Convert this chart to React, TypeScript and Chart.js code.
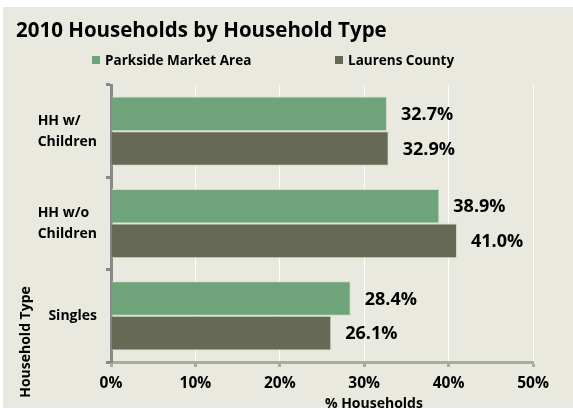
import React, { useEffect, useRef } from "react";
import { Chart, registerables } from "chart.js";

Chart.register(...registerables);

const chartTitle = "2010 Households by Household Type";
const categories: string[][] = [["HH w/", "Children"], ["HH w/o", "Children"], ["Singles"]];
const seriesNames = ["Parkside Market Area", "Laurens County"];
const parksideValues = [32.7, 38.9, 28.4];
const laurensValues = [32.9, 41.0, 26.1];
const seriesColors = ["#6FA37A", "#666A55"];
const xTitle = "% Households";
const yTitle = "Household Type";

const FONT = "'Open Sans', Lato, sans-serif";

const customDraw = {
  id: "customDraw",
  afterDatasetsDraw(chart: any) {
    const ctx = chart.ctx;
    const area = chart.chartArea;
    ctx.save();
    ctx.fillStyle = "#000";
    // title
    ctx.font = `bold 20.5px ${FONT}`;
    ctx.textAlign = "left";
    ctx.textBaseline = "alphabetic";
    ctx.fillText(chartTitle, 13, 30);
    // legend
    const legendX = [89, 332];
    ctx.font = `bold 13.5px ${FONT}`;
    ctx.textBaseline = "middle";
    chart.data.datasets.forEach((ds: any, i: number) => {
      ctx.fillStyle = ds.backgroundColor;
      ctx.fillRect(legendX[i], 49, 8, 8);
      ctx.fillStyle = "#000";
      ctx.fillText(ds.label, legendX[i] + 13, 54);
    });
    // data labels
    ctx.font = `bold 18px ${FONT}`;
    ctx.textAlign = "left";
    chart.data.datasets.forEach((ds: any, i: number) => {
      const meta = chart.getDatasetMeta(i);
      meta.data.forEach((bar: any, j: number) => {
        ctx.fillText(ds.data[j].toFixed(1) + "%", bar.x + 14, bar.y + 1);
      });
    });
    // y category labels
    const yScale = chart.scales.y;
    ctx.font = `bold 14px ${FONT}`;
    ctx.textAlign = "left";
    const lineH = 21;
    chart.data.labels.forEach((lab: any, j: number) => {
      const lines: string[] = Array.isArray(lab) ? lab : [lab];
      const maxW = Math.max(...lines.map((l) => ctx.measureText(l).width));
      const lx = 94 - maxW;
      const cy = yScale.getPixelForValue(j);
      lines.forEach((l, k) => {
        ctx.fillText(l, lx, cy + (k - (lines.length - 1) / 2) * lineH);
      });
    });
    // x axis title
    ctx.font = `bold 14px ${FONT}`;
    ctx.textAlign = "center";
    ctx.fillText(xTitle, area.left + (area.right - area.left) * 0.623, 397);
    // y axis title
    ctx.translate(23, 335);
    ctx.rotate(-Math.PI / 2);
    ctx.fillText(yTitle, 0, 0);
    ctx.restore();
  },
};

export default function App() {
  const ref = useRef<HTMLCanvasElement>(null);
  useEffect(() => {
    document.body.style.margin = "0";
    const chart = new Chart(ref.current!, {
      type: "bar",
      data: {
        labels: categories as any,
        datasets: [
          {
            label: seriesNames[0],
            data: parksideValues,
            backgroundColor: seriesColors[0],
            borderColor: "#D5DACB",
            borderWidth: 1,
          },
          {
            label: seriesNames[1],
            data: laurensValues,
            backgroundColor: seriesColors[1],
            borderColor: "#D5DACB",
            borderWidth: 1,
          },
        ],
      },
      options: {
        indexAxis: "y",
        responsive: false,
        animation: false,
        events: [],
        layout: { padding: { top: 78, right: 40, left: 0, bottom: 0 } },
        datasets: { bar: { categoryPercentage: 0.75, barPercentage: 1 } },
        plugins: {
          legend: { display: false },
          title: { display: false },
          tooltip: { enabled: false },
        },
        scales: {
          x: {
            min: 0,
            max: 50,
            ticks: {
              stepSize: 10,
              callback: (v: any) => v + "%",
              color: "#000",
              font: { family: FONT, size: 15.5, weight: "bold" },
              padding: 7,
            },
            grid: {
              color: "#FFFFFF",
              lineWidth: 1,
              tickLength: 5,
              tickColor: "#A9AC98",
              tickWidth: 3,
            },
            border: { color: "#A9AC98", width: 3 },
            afterFit: (s: any) => {
              s.height = 46;
            },
          },
          y: {
            ticks: { display: false },
            grid: {
              drawOnChartArea: false,
              tickLength: 5,
              tickColor: "#88888A",
              tickWidth: 3,
              offset: true,
            },
            border: { color: "#88888A", width: 3 },
            afterFit: (s: any) => {
              s.width = 108;
            },
          },
        },
      },
      plugins: [customDraw],
    });
    return () => chart.destroy();
  }, []);
  return (
    <div
      style={{
        position: "absolute",
        left: 3,
        top: 7,
        width: 570,
        height: 401,
        background: "#E9E9DF",
      }}
    >
      <canvas ref={ref} width={570} height={401} />
    </div>
  );
}
